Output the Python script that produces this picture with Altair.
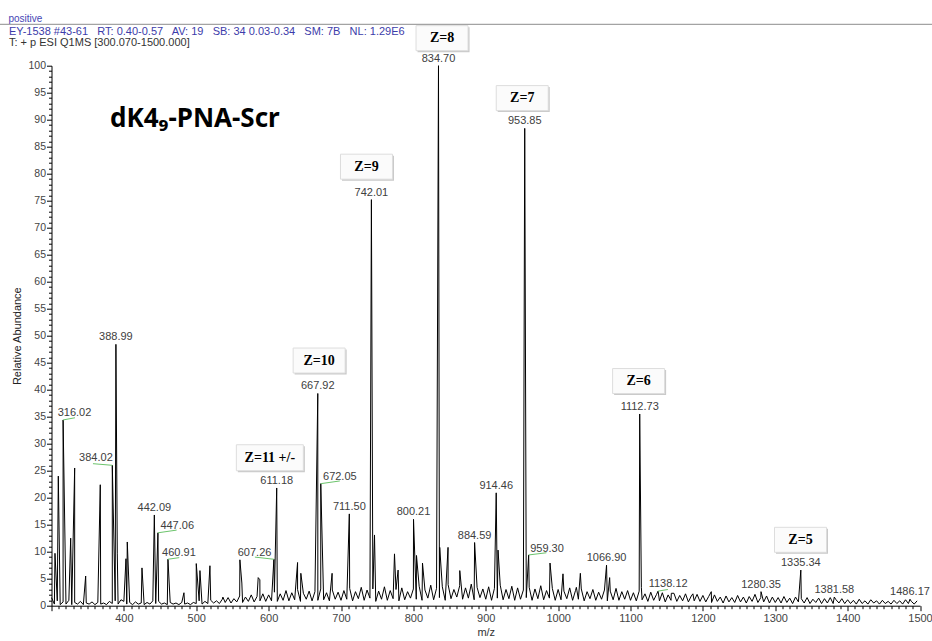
import altair as alt
import pandas as pd

# ---------------- data ----------------
# baseline noise, sampled every 4 m/z, one list per 100 m/z
noise_300 = [1.5, 0.3, 0.9, 0.2, 0.7, 0.3, 1.0, 0.2, 0.6, 0.3, 0.8, 0.2, 0.5, 0.3, 0.7, 0.2, 0.6, 0.3, 0.5, 0.2, 0.8, 0.4, 0.9, 0.3, 1.1]
noise_400 = [0.8, 0.3, 0.6, 0.2, 0.7, 0.3, 0.5, 0.2, 0.6, 0.3, 0.9, 0.4, 0.8, 0.3, 0.5, 0.2, 0.6, 0.3, 0.5, 0.2, 0.6, 0.3, 0.5, 0.2, 0.6]
noise_500 = [0.4, 0.9, 0.3, 0.8, 0.4, 1.0, 0.5, 0.9, 0.4, 1.2, 0.6, 1.5, 0.5, 1.3, 0.7, 1.8, 0.6, 1.6, 0.8, 2.0, 0.7, 1.7, 0.9, 2.2, 0.8]
noise_600 = [2.0, 0.9, 2.5, 0.8, 2.2, 1.0, 2.8, 0.9, 2.4, 1.1, 3.0, 0.8, 2.3, 1.2, 2.7, 0.9, 2.6, 1.0, 3.1, 1.1, 2.4, 0.9, 2.9, 1.2, 2.5]
noise_700 = [1.0, 2.8, 1.2, 3.2, 0.9, 2.6, 1.3, 3.4, 1.0, 2.9, 1.4, 3.1, 0.8, 2.7, 1.2, 3.5, 1.0, 2.8, 1.3, 3.0, 0.9, 3.3, 1.1, 2.6, 1.4]
noise_800 = [3.1, 1.2, 3.6, 1.0, 2.9, 1.4, 3.8, 1.1, 3.2, 1.5, 3.5, 1.0, 3.9, 1.3, 3.0, 1.6, 3.7, 1.2, 3.3, 1.4, 4.0, 1.1, 3.4, 1.5, 3.1]
noise_900 = [1.2, 3.5, 1.0, 3.2, 1.4, 3.8, 1.1, 3.0, 1.3, 3.6, 1.0, 3.3, 1.2, 2.9, 1.5, 3.4, 1.0, 3.1, 1.3, 3.7, 1.1, 2.8, 1.4, 3.2, 1.0]
noise_1000 = [3.0, 1.1, 2.7, 1.3, 3.3, 1.0, 2.8, 1.2, 3.1, 0.9, 2.6, 1.3, 3.0, 1.0, 2.5, 1.2, 2.9, 0.9, 2.7, 1.1, 3.2, 1.0, 2.6, 1.2, 2.8]
noise_1100 = [1.0, 2.4, 0.9, 2.7, 1.1, 2.2, 0.8, 2.5, 1.0, 2.1, 0.9, 2.4, 0.7, 2.0, 1.0, 2.3, 0.8, 1.9, 0.9, 2.2, 0.7, 1.8, 0.9, 2.1, 0.8]
noise_1200 = [1.9, 0.7, 1.7, 0.6, 2.0, 0.8, 1.6, 0.5, 1.8, 0.7, 1.5, 0.6, 1.9, 0.7, 1.6, 0.5, 1.7, 0.8, 2.1, 0.6, 1.5, 0.7, 1.8, 0.5, 1.6]
noise_1300 = [0.6, 1.5, 0.5, 1.7, 0.6, 1.4, 0.4, 1.6, 0.7, 1.3, 0.5, 1.5, 0.4, 1.2, 0.6, 1.4, 0.4, 1.3, 0.5, 1.5, 0.4, 1.1, 0.5, 1.3, 0.4]
noise_1400 = [1.1, 0.4, 1.0, 0.3, 1.2, 0.4, 0.9, 0.3, 1.1, 0.5, 0.9, 0.3, 1.0, 0.4, 0.8, 0.3, 1.0, 0.4, 0.9, 0.3, 1.1, 0.4, 0.8, 0.3, 0.9]
noise_segments = {300: noise_300, 400: noise_400, 500: noise_500, 600: noise_600,
                  700: noise_700, 800: noise_800, 900: noise_900, 1000: noise_1000,
                  1100: noise_1100, 1200: noise_1200, 1300: noise_1300, 1400: noise_1400}
noise_step = 4

# peak apexes (m/z, relative abundance)
peak_mz = [304.8, 309.4, 316.02, 326.5, 332.0, 347.2, 367.4, 384.02, 388.99, 390.9,
           402.9, 404.7, 425.0, 442.09, 447.06, 460.91, 483.0, 500.0, 505.1, 518.9,
           536.8, 560.3, 563.0, 585.6, 587.9, 607.26, 611.18, 640.0, 644.5, 667.92,
           672.05, 687.7, 711.50, 742.01, 746.3, 773.9, 778.9, 800.21, 804.3, 812.6,
           834.70, 836.4, 847.9, 864.1, 884.59, 914.46, 917.0, 953.85, 959.30, 988.8,
           1006.7, 1025.2, 1030.7, 1066.90, 1071.2, 1112.73, 1115.0, 1138.12, 1156.4, 1186.2,
           1211.6, 1280.35, 1335.34, 1381.58, 1486.17]
peak_int = [9.7, 24.0, 34.4, 12.5, 25.5, 5.5, 22.4, 26.0, 48.4, 9.6,
            8.7, 11.8, 7.0, 16.8, 13.5, 8.6, 2.4, 7.8, 6.5, 7.4,
            1.6, 8.5, 4.2, 5.2, 4.8, 8.6, 21.8, 8.0, 6.0, 39.3,
            22.6, 6.0, 17.0, 75.2, 13.1, 9.6, 6.6, 16.0, 9.3, 7.9,
            100.0, 10.8, 10.8, 6.5, 11.7, 20.9, 10.3, 88.4, 9.4, 7.9,
            5.9, 3.4, 6.0, 7.5, 5.2, 35.5, 3.4, 2.7, 2.3, 2.2,
            2.6, 2.6, 6.6, 1.6, 1.2]

# labels drawn straight above their peak
top_label_mz = [388.99, 442.09, 611.18, 667.92, 711.50, 742.01, 800.21, 834.70, 884.59,
                914.46, 953.85, 1066.90, 1112.73, 1280.35, 1335.34, 1381.58, 1486.17]
top_label_text = ["388.99", "442.09", "611.18", "667.92", "711.50", "742.01", "800.21", "834.70", "884.59",
                  "914.46", "953.85", "1066.90", "1112.73", "1280.35", "1335.34", "1381.58", "1486.17"]

# labels moved aside, joined to the peak with a green leader
side_label_text = ["316.02", "384.02", "447.06", "460.91", "607.26", "672.05", "959.30", "1138.12"]
side_label_mz = [331.8, 361.4, 473.7, 476.1, 580.6, 698.4, 984.6, 1152.0]
side_label_int = [35.7, 27.3, 14.8, 9.7, 9.8, 23.9, 10.5, 4.0]
leader_end_mz = [332.4, 357.3, 472.9, 476.5, 581.0, 698.4, 983.8, 1151.7]
leader_end_int = [34.8, 26.3, 14.0, 8.9, 9.0, 23.1, 9.8, 3.0]

# charge-state boxes
z_text = ["Z=8", "Z=7", "Z=9", "Z=10", "Z=6", "Z=5"]
z_mz = [839.6, 950.4, 735.2, 669.8, 1111.2, 1334.9]
z_int = [105.1, 94.0, 81.3, 45.4, 41.6, 12.2]
zwide_text = ["Z=11 +/-"]
zwide_mz = [601.7]
zwide_int = [27.4]

header_positive = "positive"
header_scan = "EY-1538 #43-61\u00a0\u00a0 RT: 0.40-0.57\u00a0\u00a0 AV: 19\u00a0\u00a0 SB: 34 0.03-0.34\u00a0\u00a0 SM: 7B\u00a0\u00a0 NL: 1.29E6"
header_filter = "T: + p ESI Q1MS [300.070-1500.000]"
sample_title = "dK4\u2089-PNA-Scr"

x_ticks = list(range(300, 1501, 10))
y_ticks = list(range(0, 101, 1))

# ---------------- tables ----------------
rows = []
for start, vals in noise_segments.items():
    for i, v in enumerate(vals):
        rows.append({"mz": start + noise_step * i, "ab": v})
for m, a in zip(peak_mz, peak_int):
    rows.append({"mz": m, "ab": a})
spec = pd.DataFrame(rows).sort_values("mz").reset_index(drop=True)

pk = dict(zip(peak_mz, peak_int))
top_df = pd.DataFrame({"mz": top_label_mz, "ab": [pk[m] for m in top_label_mz], "t": top_label_text})
side_df = pd.DataFrame({"mz": side_label_mz, "ab": side_label_int, "t": side_label_text})
lead_df = pd.DataFrame({
    "mz": [float(t) for t in side_label_text],
    "ab": [pk[float(t)] for t in side_label_text],
    "m2": leader_end_mz, "a2": leader_end_int})
z_df = pd.DataFrame({"mz": z_mz, "ab": z_int, "t": z_text})
zw_df = pd.DataFrame({"mz": zwide_mz, "ab": zwide_int, "t": zwide_text})

xs = alt.Scale(domain=[300, 1500], nice=False, zero=False)
ys = alt.Scale(domain=[0, 100], nice=False)

FONT = "Liberation Sans"

x_axis = alt.Axis(
    values=x_ticks, title="m/z",
    labelExpr="datum.value % 100 === 0 && datum.value >= 400 ? datum.label : ''",
    tickSize={"condition": {"test": "datum.value % 100 === 0", "value": 5}, "value": 3},
    labelOverlap=False, labelFlush=False, grid=False, labelFont=FONT, labelFontSize=11, labelColor="#444444",
    titleFont=FONT, titleFontSize=11, titleFontWeight="normal", titleColor="#333333",
    titlePadding=3, labelPadding=2, domainColor="black", tickColor="black", format="d")
y_axis = alt.Axis(
    values=y_ticks, title="Relative Abundance",
    labelExpr="datum.value % 5 === 0 ? datum.label : ''",
    tickSize={"condition": {"test": "datum.value % 5 === 0", "value": 5}, "value": 3},
    labelOverlap=False, labelFlush=False, grid=False, labelFont=FONT, labelFontSize=10.5, labelColor="#444444",
    titleFont=FONT, titleFontSize=11, titleFontWeight="normal", titleColor="#222222",
    titlePadding=5, labelPadding=1, domainColor="black", tickColor="black", format="d")

line = alt.Chart(spec).mark_line(color="black", strokeWidth=1).encode(order="mz:Q")

leaders = alt.Chart(lead_df).mark_rule(color="#6cc46c", strokeWidth=1).encode(x2="m2:Q", y2="a2:Q")

top_labels = alt.Chart(top_df).mark_text(
    font=FONT, fontSize=11, color="#404040", baseline="middle", dy=-7).encode(text="t:N")

side_labels = alt.Chart(side_df).mark_text(
    font=FONT, fontSize=11, color="#404040", baseline="middle").encode(text="t:N")

def zbox(df, w, h):
    shadow = alt.Chart(df).mark_rect(width=w, height=h, xOffset=1.5, yOffset=1.5, fill="#c9c9c9")
    box = alt.Chart(df).mark_rect(width=w, height=h, fill="#fbfbfb", stroke="#dddddd", strokeWidth=1)
    txt = alt.Chart(df).mark_text(font="Liberation Serif", fontWeight="bold", fontSize=14,
                                  color="black", baseline="middle").encode(text="t:N")
    return [shadow, box, txt]

data_layers = alt.layer(line, leaders, top_labels, side_labels,
                        *zbox(z_df, 52, 25), *zbox(zw_df, 67, 26)).encode(
    x=alt.X("mz:Q", scale=xs, axis=x_axis),
    y=alt.Y("ab:Q", scale=ys, axis=y_axis))

one = pd.DataFrame({"k": [0]})
hdr_rule = alt.Chart(one).mark_rule(color="#8c8c8c", strokeWidth=1).encode(
    x=alt.value(-51.5), x2=alt.value(880.5), y=alt.value(-41.4))
hdr1 = alt.Chart(one).mark_text(text=header_positive, font=FONT, fontSize=10, color="#4646b4",
                                align="left", baseline="middle").encode(x=alt.value(-43), y=alt.value(-47))
hdr2 = alt.Chart(one).mark_text(text=header_scan, font=FONT, fontSize=11, color="#3c3caa",
                                align="left", baseline="middle").encode(x=alt.value(-42.5), y=alt.value(-34))
hdr3 = alt.Chart(one).mark_text(text=header_filter, font=FONT, fontSize=11, color="#333333",
                                align="left", baseline="middle").encode(x=alt.value(-42.5), y=alt.value(-22.4))
title = alt.Chart(one).mark_text(text=sample_title, font="Noto Sans", fontWeight="bold", fontSize=26,
                                 color="black", align="left", baseline="alphabetic").encode(
    x=alt.value(58.5), y=alt.value(61.5))

chart = alt.layer(data_layers, hdr_rule, hdr1, hdr2, hdr3, title).properties(
    width=868.5, height=540,
    autosize=alt.AutoSizeParams(type="none"),
    padding={"left": 51.5, "top": 65.7, "right": 12, "bottom": 35.3},
    background="white",
).configure_view(stroke=None)

chart.save("out.html", embed_options={"renderer": "svg", "actions": False})
